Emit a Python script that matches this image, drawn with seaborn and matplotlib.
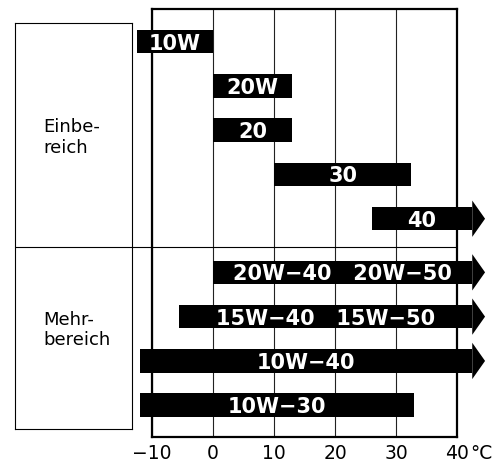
import numpy as np
import pandas as pd
import matplotlib
matplotlib.use("Agg")
import matplotlib.pyplot as plt
import seaborn as sns
from matplotlib.lines import Line2D

# ---------------- data ----------------
grades = ["10W", "20W", "20", "30", "40",
          "20W−40   20W−50", "15W−40   15W−50", "10W−40", "10W−30"]
groups = ["Einbereich"] * 5 + ["Mehrbereich"] * 4
t_low = [-12.5, 0, 0, 10, 26, 0, -5.5, -12, -12]
t_high = [0, 13, 13, 32.5, 40, 40, 40, 40, 33]
open_end = [False, False, False, False, True, True, True, True, False]
tick_values = [-10, 0, 10, 20, 30, 40]
tick_labels = ["−10", "0", "10", "20", "30", "40"]
unit_label = "°C"
group_names = ["Einbereich", "Mehrbereich"]
group_labels = ["Einbe-\nreich", "Mehr-\nbereich"]

# ---------------- layout ----------------
W, H = 498, 463
sns.set_theme(style="white")
plt.rcParams["font.family"] = ["DejaVu Sans"]

ARROW_EXT = 2.5      # body beyond scale end for open ranges
HEAD_LEN = 2.1
HEAD_HALF = 0.41
GROUP_GAP = 0.21

df = pd.DataFrame({"grade": grades, "group": groups,
                   "low": t_low, "high": t_high, "open": open_end})
df["end"] = df["high"] + np.where(df["open"], ARROW_EXT, 0.0)
df["span"] = df["end"] - df["low"]
df["pos"] = np.arange(len(df)) + GROUP_GAP * (df["group"] == group_names[1])

fig = plt.figure(figsize=(W / 100, H / 100), dpi=100)
ax = fig.add_axes([152 / W, 1 - 437 / H, 305 / W, 428 / H])

sns.barplot(data=df, x="span", y="pos", orient="y", native_scale=True,
            color="black", saturation=1, width=0.53, errorbar=None,
            linewidth=0, left=df["low"].to_numpy(), clip_on=False,
            zorder=3, ax=ax)

# arrow heads for open-ended ranges
for _, r in df[df["open"]].iterrows():
    ax.fill([r["end"], r["end"] + HEAD_LEN, r["end"]],
            [r["pos"] - HEAD_HALF, r["pos"], r["pos"] + HEAD_HALF],
            color="black", lw=0, clip_on=False, zorder=3)

# labels inside bars
for _, r in df.iterrows():
    ax.text((r["low"] + r["end"]) / 2, r["pos"], r["grade"], color="white",
            fontsize=15, fontweight="bold", ha="center", va="center_baseline",
            zorder=4, clip_on=False)

ax.set_xlim(-10, 40)
ax.set_ylim(8.927, -0.734)
ax.set_xticks(tick_values)
ax.set_xticklabels(tick_labels)
ax.set_yticks([])
ax.set_xlabel("")
ax.set_ylabel("")
ax.tick_params(axis="x", length=0, pad=5, labelsize=13.5, colors="black")
ax.grid(axis="x", color="#222222", lw=0.8)
ax.grid(axis="y", visible=False)
ax.set_axisbelow(True)
for s in ax.spines.values():
    s.set_visible(True)
    s.set_color("black")
    s.set_linewidth(1.6)

ax.annotate(unit_label, xy=(40, 0), xycoords=("data", "axes fraction"),
            xytext=(9.5, -5), textcoords="offset points", ha="left", va="top",
            fontsize=13.5, color="black", annotation_clip=False)

# left group box
lax = fig.add_axes([15 / W, 1 - 429 / H, 117 / W, 406 / H])
lax.set_xticks([])
lax.set_yticks([])
lax.set_facecolor("white")
for s in lax.spines.values():
    s.set_visible(True)
    s.set_color("black")
    s.set_linewidth(0.8)
lab_y = [(429 - 137.5) / 406, (429 - 330) / 406]
for lbl, yy in zip(group_labels, lab_y):
    lax.text((43 - 15) / 117, yy, lbl, ha="left", va="center",
             fontsize=13, color="black", linespacing=1.2,
             transform=lax.transAxes)

fig.add_artist(Line2D([15 / W, 457 / W], [1 - 247 / H] * 2,
                      transform=fig.transFigure, color="black", lw=0.8))

fig.savefig("out.png", dpi=100)
